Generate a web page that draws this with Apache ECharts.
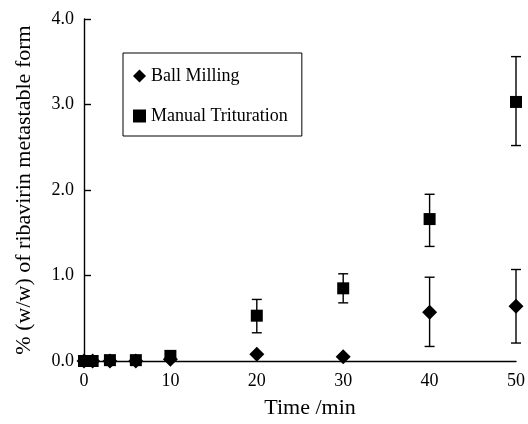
<!DOCTYPE html>
<html>
<head>
<meta charset="utf-8">
<script src="https://cdn.jsdelivr.net/npm/echarts@6/dist/echarts.min.js"></script>
<style>
  html, body { margin: 0; padding: 0; background: #fff; }
  #chart { width: 528px; height: 424px; }
</style>
</head>
<body>
<div id="chart"></div>
<script>
// time points (min)
const times = [0, 1, 3, 6, 10, 20, 30, 40, 50]
const yTicks = [0, 1, 2, 3, 4]

// % (w/w) metastable form
const ballMilling = [0, 0, 0, 0, 0.02, 0.08, 0.05, 0.57, 0.64]
const ballLow = [null, null, null, null, null, null, null, 0.17, 0.21]
const ballHigh = [null, null, null, null, null, null, null, 0.98, 1.07]

const manual = [0, 0, 0.01, 0.01, 0.06, 0.53, 0.85, 1.66, 3.03]
const manualLow = [null, null, null, null, null, 0.33, 0.68, 1.34, 2.52]
const manualHigh = [null, null, null, null, null, 0.72, 1.02, 1.95, 3.56]

const font = 'Liberation Serif'

function errData(low, high) {
  const out = []
  times.forEach((t, i) => {
    if (low[i] != null) out.push([t, low[i], high[i]])
  })
  return out
}

function renderErr(params, api) {
  const lo = api.coord([api.value(0), api.value(1)])
  const hi = api.coord([api.value(0), api.value(2)])
  const cap = 5
  const style = { stroke: '#000', lineWidth: 1.4 }
  return {
    type: 'group',
    children: [
      { type: 'line', shape: { x1: lo[0], y1: lo[1], x2: hi[0], y2: hi[1] }, style },
      { type: 'line', shape: { x1: lo[0] - cap, y1: lo[1], x2: lo[0] + cap, y2: lo[1] }, style },
      { type: 'line', shape: { x1: hi[0] - cap, y1: hi[1], x2: hi[0] + cap, y2: hi[1] }, style }
    ]
  }
}

const chart = echarts.init(document.getElementById('chart'))
chart.setOption({
  animation: false,
  textStyle: { fontFamily: font },
  grid: { left: 84, right: 11, top: 19, bottom: 60 },
  legend: {
    orient: 'vertical',
    left: 123,
    top: 53,
    padding: [14, 14, 11, 10],
    itemGap: 22,
    itemWidth: 13,
    itemHeight: 13,
    borderColor: '#000',
    borderWidth: 1,
    textStyle: { fontFamily: font, fontSize: 18, color: '#000' },
    data: [
      { name: 'Ball Milling', icon: 'diamond' },
      { name: 'Manual Trituration', icon: 'rect' }
    ]
  },
  xAxis: {
    type: 'value',
    min: 0,
    max: 50,
    interval: 10,
    name: 'Time /min',
    nameLocation: 'middle',
    nameGap: 36,
    nameTextStyle: { fontFamily: font, fontSize: 22, color: '#000', padding: [0, 0, 0, 20] },
    axisLine: { lineStyle: { color: '#000', width: 1.4 } },
    axisTick: { show: false },
    splitLine: { show: false },
    axisLabel: { fontFamily: font, fontSize: 18, color: '#000', margin: 11 }
  },
  yAxis: {
    type: 'value',
    min: yTicks[0],
    max: yTicks[yTicks.length - 1],
    interval: 1,
    name: '% (w/w) of ribavirin metastable form',
    nameLocation: 'middle',
    nameGap: 49,
    nameTextStyle: { fontFamily: font, fontSize: 22, color: '#000' },
    axisLine: { show: true, lineStyle: { color: '#000', width: 1.4 } },
    axisTick: { show: true, inside: true, length: 7, lineStyle: { color: '#000', width: 1.4 } },
    splitLine: { show: false },
    axisLabel: {
      fontFamily: font, fontSize: 18, color: '#000', margin: 10,
      formatter: v => v.toFixed(1)
    }
  },
  series: [
    {
      type: 'custom',
      name: 'errBall',
      renderItem: renderErr,
      data: errData(ballLow, ballHigh),
      z: 1
    },
    {
      type: 'custom',
      name: 'errManual',
      renderItem: renderErr,
      data: errData(manualLow, manualHigh),
      z: 1
    },
    {
      type: 'scatter',
      name: 'Ball Milling',
      symbol: 'diamond',
      symbolSize: 15,
      clip: false,
      itemStyle: { color: '#000', opacity: 1 },
      data: times.map((t, i) => [t, ballMilling[i]]),
      z: 2
    },
    {
      type: 'scatter',
      name: 'Manual Trituration',
      symbol: 'rect',
      symbolSize: 12,
      clip: false,
      itemStyle: { color: '#000', opacity: 1 },
      data: times.map((t, i) => [t, manual[i]]),
      z: 3
    }
  ]
})
</script>
</body>
</html>
